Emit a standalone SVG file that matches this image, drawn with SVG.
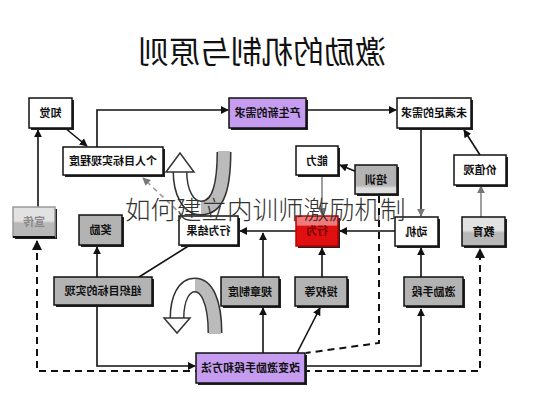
<svg xmlns="http://www.w3.org/2000/svg" width="533" height="400" viewBox="0 0 533 400">
<defs>
<marker id="ah" viewBox="0 0 10 10" refX="9" refY="5" markerWidth="5" markerHeight="5" orient="auto-start-reverse"><path d="M0,0 L10,5 L0,10 z" fill="#111"/></marker>
<marker id="ahg" viewBox="0 0 10 10" refX="9" refY="5" markerWidth="5" markerHeight="5" orient="auto-start-reverse"><path d="M0,0 L10,5 L0,10 z" fill="#777"/></marker>
<linearGradient id="gRed" x1="0" y1="0" x2="0" y2="1"><stop offset="0" stop-color="#f07a7a"/><stop offset="0.3" stop-color="#f07a7a"/><stop offset="0.35" stop-color="#e01010"/><stop offset="1" stop-color="#e01010"/></linearGradient>
<linearGradient id="gFadeTop" x1="0" y1="0" x2="0" y2="1"><stop offset="0" stop-color="#e2e2e2"/><stop offset="0.45" stop-color="#e2e2e2"/><stop offset="0.55" stop-color="#b8b8b8"/><stop offset="1" stop-color="#b8b8b8"/></linearGradient>
<linearGradient id="gFadeBot" x1="0" y1="0" x2="0" y2="1"><stop offset="0" stop-color="#b3b3b3"/><stop offset="0.7" stop-color="#b3b3b3"/><stop offset="0.8" stop-color="#dedede"/><stop offset="1" stop-color="#dedede"/></linearGradient>
<style>
.sh{fill:#222}
.w{fill:#fff;stroke:#111;stroke-width:1.5}
.g{fill:#b3b3b3;stroke:#111;stroke-width:1.5}
.p{fill:#c59cf0;stroke:#111;stroke-width:1.5}
.t{font-family:"Noto Sans CJK SC","Noto Sans CJK JP",sans-serif;font-size:11px;font-weight:bold;fill:#111;text-anchor:middle}
.c{fill:none;stroke:#111;stroke-width:1.6}
.cg{fill:none;stroke:#888;stroke-width:1.6}
.d{fill:none;stroke:#111;stroke-width:2;stroke-dasharray:7 5}
.dg{fill:none;stroke:#999;stroke-width:1.6;stroke-dasharray:5 4}
</style>
</defs>
<rect width="533" height="400" fill="#fff"/>
<text x="0" y="0" transform="translate(262,63) scale(-1,1)" style="font-family:'Noto Sans CJK SC',sans-serif;font-size:31px;fill:#111;text-anchor:middle">激励的机制与原则</text>

<g id="connectors">
<path class="d" d="M37,241 V371 H480 V249" marker-start="url(#ah)" marker-end="url(#ah)"/>
<path class="d" d="M379,196 V343 L306,353"/>
<path class="c" d="M38,207 V130" marker-end="url(#ah)" stroke="#444"/>
<path class="c" d="M65,128 L87,146" marker-end="url(#ah)"/>
<path class="c" d="M97,147 V110 H228" marker-end="url(#ah)"/>
<path class="c" d="M306,110 H396" marker-end="url(#ah)"/>
<path class="c" d="M421,128 V216" marker-end="url(#ahg)"/>
<path class="c" d="M480,155 L464,130" marker-end="url(#ah)"/>
<path class="cg" d="M481,217 V186" marker-end="url(#ahg)"/>
<path class="c" d="M357,172 L340,165" marker-end="url(#ah)"/>
<path class="cg" d="M322,175 V215" marker-end="url(#ahg)"/>
<path class="c" d="M395,231 H340" marker-end="url(#ah)"/>
<path class="c" d="M296,231 H240" marker-end="url(#ah)"/>
<path class="c" d="M190,245 L139,277"/>
<path class="dg" d="M183,216 L143,178" marker-end="url(#ahg)"/>
<path class="c" d="M97,277 V247" marker-end="url(#ah)"/>
<path class="c" d="M263,277 V233" marker-end="url(#ah)"/>
<path class="c" d="M322,277 V248" marker-end="url(#ah)"/>
<path class="c" d="M421,277 V248" marker-end="url(#ah)"/>
<path class="c" d="M97,306 V366 H195" marker-end="url(#ah)"/>
<path class="c" d="M263,353 V308" marker-end="url(#ah)"/>
<path class="c" d="M297,353 L320,308" marker-end="url(#ah)"/>
<path class="c" d="M306,366 H421 V309" marker-end="url(#ah)"/>
</g>

<g id="curve-top">
<path d="M224,152 C224,197 214,208 201,208 C188,208 180,192 180,172" fill="none" stroke="#333" stroke-width="15"/>
<path d="M224,151 C224,197 214,208 201,208" fill="none" stroke="#bbb" stroke-width="12"/>
<path d="M201,208 C188,208 180,192 180,171" fill="none" stroke="#fff" stroke-width="12"/>
<polygon points="166,172 180,153 194,172" fill="#fff" stroke="#333" stroke-width="1.5"/>
</g>
<g id="curve-bottom">
<path d="M215,333 C215,300 206,285 195,285 C184,285 177,298 177,318" fill="none" stroke="#333" stroke-width="15"/>
<path d="M215,334 C215,300 206,285 195,285" fill="none" stroke="#bbb" stroke-width="12"/>
<path d="M195,285 C184,285 177,298 177,319" fill="none" stroke="#fff" stroke-width="12"/>
<polygon points="164,318 177,333 190,318" fill="#fff" stroke="#333" stroke-width="1.5"/>
</g>

<g id="n-zhijue"><rect class="sh" x="31" y="100" width="43" height="30"/><rect class="w" x="29" y="98" width="43" height="30"/><text class="t" transform="translate(50.5,117) scale(-1,1)">知觉</text></g>
<g id="n-geren"><rect class="sh" x="65" y="149" width="100" height="28"/><rect class="w" x="63" y="147" width="100" height="28"/><text class="t" transform="translate(113,165) scale(-1,1)">个人目标实现程度</text></g>
<g id="n-chansheng"><rect class="sh" x="231" y="100" width="77" height="30"/><rect class="p" x="229" y="98" width="77" height="30"/><text class="t" transform="translate(267.5,117) scale(-1,1)">产生新的需求</text></g>
<g id="n-weimanzu"><rect class="sh" x="399" y="100" width="74" height="30"/><rect class="w" x="397" y="98" width="74" height="30"/><text class="t" transform="translate(434,117) scale(-1,1)">未满足的需求</text></g>
<g id="n-nengli"><rect class="sh" x="298" y="148" width="42" height="29"/><rect class="w" x="296" y="146" width="42" height="29"/><text class="t" transform="translate(317,164.5) scale(-1,1)">能力</text></g>
<g id="n-peixun"><rect class="sh" x="357" y="167" width="42" height="29"/><rect x="355" y="165" width="42" height="29" fill="url(#gFadeBot)" stroke="#111" stroke-width="1.5"/><text class="t" transform="translate(376,183.5) scale(-1,1)">培训</text></g>
<g id="n-jiazhiguan"><rect class="sh" x="456" y="157" width="52" height="30"/><rect class="w" x="454" y="155" width="52" height="30"/><text class="t" transform="translate(480,174) scale(-1,1)">价值观</text></g>
<g id="n-xuanchuan"><rect class="sh" x="15" y="209" width="42" height="30"/><rect x="13" y="207" width="42" height="30" fill="url(#gFadeTop)" stroke="#999" stroke-width="1.5"/><line x1="13" y1="237" x2="55" y2="237" stroke="#111" stroke-width="2"/><text class="t" transform="translate(34,226) scale(-1,1)" style="fill:#888">宣传</text></g>
<g id="n-jiangli"><rect class="sh" x="81" y="217" width="43" height="30"/><rect class="g" x="79" y="215" width="43" height="30"/><text class="t" transform="translate(100.5,234) scale(-1,1)">奖励</text></g>
<g id="n-xingweijieguo"><rect class="sh" x="181" y="218" width="59" height="29"/><rect class="w" x="179" y="216" width="59" height="29"/><text class="t" transform="translate(208.5,234.5) scale(-1,1)">行为结果</text></g>
<g id="n-xingwei"><rect class="sh" x="298" y="218" width="42" height="30"/><rect x="296" y="216" width="42" height="30" fill="url(#gRed)" stroke="#b00" stroke-width="1.5"/><text class="t" transform="translate(317,235) scale(-1,1)" style="fill:#700">行为</text></g>
<g id="n-dongji"><rect class="sh" x="397" y="219" width="43" height="29"/><rect class="w" x="395" y="217" width="43" height="29"/><text class="t" transform="translate(416.5,235.5) scale(-1,1)">动机</text></g>
<g id="n-jiaoyu"><rect class="sh" x="464" y="219" width="43" height="29"/><rect x="462" y="217" width="43" height="29" fill="url(#gFadeTop)" stroke="#111" stroke-width="1.5"/><text class="t" transform="translate(483.5,235.5) scale(-1,1)">教育</text></g>
<g id="n-zuzhi"><rect class="sh" x="56" y="279" width="98" height="28"/><rect class="g" x="54" y="277" width="98" height="28"/><text class="t" transform="translate(103,295) scale(-1,1)">组织目标的实现</text></g>
<g id="n-guizhang"><rect class="sh" x="223" y="279" width="58" height="29"/><rect class="g" x="221" y="277" width="58" height="29"/><text class="t" transform="translate(250,295.5) scale(-1,1)">规章制度</text></g>
<g id="n-shouquan"><rect class="sh" x="297" y="279" width="52" height="29"/><rect class="g" x="295" y="277" width="52" height="29"/><text class="t" transform="translate(321,295.5) scale(-1,1)">授权等</text></g>
<g id="n-jili"><rect class="sh" x="406" y="279" width="59" height="29"/><rect class="g" x="404" y="277" width="59" height="29"/><text class="t" transform="translate(433.5,295.5) scale(-1,1)">激励手段</text></g>
<g id="n-gaibian"><rect class="sh" x="198" y="355" width="109" height="30"/><rect class="p" x="196" y="353" width="109" height="30"/><text class="t" transform="translate(250.5,372) scale(-1,1)">改变激励手段和方法</text></g>

<text x="125" y="219" style="font-family:'Noto Sans CJK SC',sans-serif;font-size:25.5px;font-weight:300;fill:#333">如何建立内训师激励机制</text>
</svg>
